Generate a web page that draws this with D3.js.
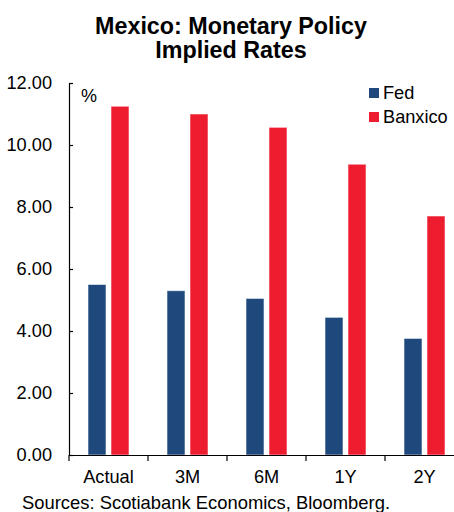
<!DOCTYPE html>
<html>
<head>
<meta charset="utf-8">
<script src="https://cdn.jsdelivr.net/npm/d3@7"></script>
<style>
  html, body { margin: 0; padding: 0; background: #fff; }
  svg { display: block; font-family: "Liberation Sans", Arial, sans-serif; }
</style>
</head>
<body>
<svg id="chart" width="454" height="512"></svg>
<script>
const categories = ["Actual", "3M", "6M", "1Y", "2Y"];
const seriesNames = ["Fed", "Banxico"];
const fedValues = [5.50, 5.30, 5.05, 4.44, 3.76];
const banxicoValues = [11.25, 11.00, 10.57, 9.38, 7.71];
const yTicks = [0, 2, 4, 6, 8, 10, 12];
const colors = ["#1F497D", "#ED1C2E"];

const svg = d3.select("#chart");
const plotLeft = 69, plotRight = 464, plotTop = 83, plotBottom = 455;

const x = d3.scaleBand().domain(categories).range([plotLeft, plotRight]).paddingInner(0).paddingOuter(0);
const xInner = d3.scaleBand().domain(seriesNames).range([0, x.bandwidth()])
  .paddingInner(5 / 23).paddingOuter(19 / 23);
const y = d3.scaleLinear().domain([0, 12]).range([plotBottom, plotTop]);

const seriesData = [fedValues, banxicoValues];

// Bars
seriesNames.forEach((s, si) => {
  svg.append("g").selectAll("rect")
    .data(categories.map((c, i) => ({ c, v: seriesData[si][i] })))
    .join("rect")
    .attr("x", d => x(d.c) + xInner(s))
    .attr("width", xInner.bandwidth())
    .attr("y", d => y(d.v))
    .attr("height", d => y(0) - y(d.v))
    .attr("fill", colors[si])
    .attr("stroke", "rgba(255,255,255,0.55)")
    .attr("stroke-width", 1);
});

// Y axis
const yAxis = svg.append("g")
  .attr("transform", `translate(${plotLeft},0)`)
  .call(d3.axisLeft(y).tickValues(yTicks).tickFormat(d3.format(".2f"))
    .tickSizeInner(-4).tickSizeOuter(0).tickPadding(17));
yAxis.select(".domain").attr("stroke", "#000").attr("stroke-width", 1.2);
yAxis.selectAll(".tick line").attr("stroke", "#000").attr("stroke-width", 1.2);
yAxis.selectAll("text").attr("font-size", 18.2).attr("fill", "#000");

// X axis
const xAxis = svg.append("g")
  .attr("transform", `translate(0,${plotBottom})`)
  .call(d3.axisBottom(x).tickSize(0).tickPadding(15));
xAxis.select(".domain").attr("stroke", "#000").attr("stroke-width", 1.2);
xAxis.selectAll("text").attr("font-size", 18.2).attr("fill", "#000");
// boundary ticks
const bounds = categories.map(c => x(c)).concat([x(categories[categories.length - 1]) + x.bandwidth()]);
xAxis.selectAll("line.bound").data(bounds).join("line")
  .attr("class", "bound")
  .attr("x1", d => d).attr("x2", d => d)
  .attr("y1", 0).attr("y2", 6)
  .attr("stroke", "#000").attr("stroke-width", 1.2);

// % label
svg.append("text").attr("x", 81).attr("y", 102).attr("font-size", 18).text("%");

// Title
const title = svg.append("text").attr("text-anchor", "middle").attr("font-weight", "bold")
  .attr("font-size", 23.3).attr("fill", "#000");
title.append("tspan").attr("x", 231).attr("y", 33.5).text("Mexico: Monetary Policy");
title.append("tspan").attr("x", 231).attr("y", 57.5).text("Implied Rates");

// Legend
const legend = svg.append("g");
seriesNames.forEach((s, i) => {
  legend.append("rect").attr("x", 369).attr("y", 88 + i * 24).attr("width", 10).attr("height", 10)
    .attr("fill", colors[i]);
  legend.append("text").attr("x", 383).attr("y", 98.5 + i * 24).attr("font-size", 18.2)
    .attr("fill", "#000").text(s);
});

// Source
svg.append("text").attr("x", 22).attr("y", 509).attr("font-size", 18.4).attr("fill", "#000")
  .text("Sources: Scotiabank Economics, Bloomberg.");
</script>
</body>
</html>
